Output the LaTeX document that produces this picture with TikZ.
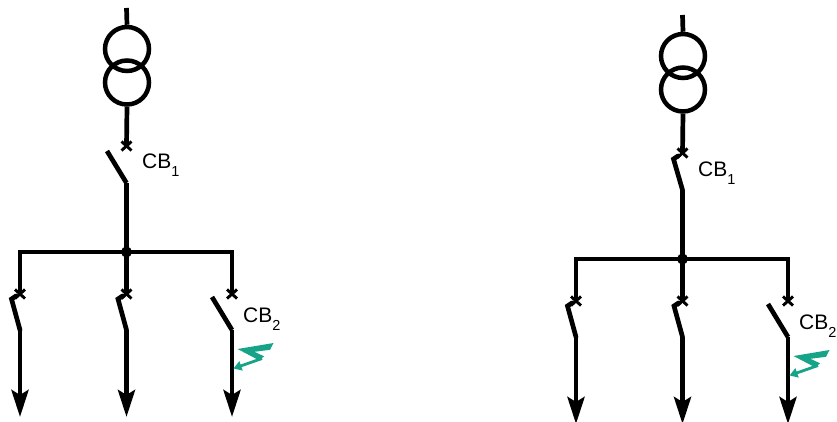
\documentclass[tikz,border=0pt]{standalone}
\usepackage{fontspec}
\setmainfont{Liberation Sans}
\usetikzlibrary{arrows.meta,calc}
\definecolor{boltc}{RGB}{22,163,136}
\tikzset{
  wire/.style={line width=4.7pt, line join=miter},
  xmark/.style={line width=2.9pt},
  feedarrow/.style={-{Stealth[length=27pt,width=17pt,inset=5pt]}},
  cblabel/.style={anchor=base west, inner sep=0pt, font=\fontsize{21}{25}\selectfont},
  trafo/.style={draw, circle, line width=4.5pt, minimum size=44pt, inner sep=0pt},
  boltarrow/.style={draw=boltc, line width=2.8pt, -{Triangle[length=8pt,width=9.5pt]}},
}
\newcommand\cbsub[1]{\raisebox{-8pt}{\fontsize{14.5}{14.5}\selectfont #1}}
\newcommand\xcross[1]{%
  \draw[xmark] ($(#1)+(-5,-4.5)$) -- ($(#1)+(5,4.5)$);
  \draw[xmark] ($(#1)+(-5,4.5)$) -- ($(#1)+(5,-4.5)$);}
% #1 = 1 for open CB1, 0 for closed CB1
\newcommand\switchboard[1]{%
  \coordinate (top) at (126.5,8);
  \node[trafo] (tu) at (127,49) {};
  \node[trafo] (tl) at (127,82.5) {};
  \draw[wire] (top) -- (tu.north);
  \coordinate (cb1c) at (126.5,146);
  \draw[wire] (tl.south) -- (cb1c);
  \xcross{cb1c}
  \coordinate (cb1b) at (126.5,183);
  \ifnum#1=1
    \coordinate (cb1t) at (107,151);
    \draw[wire] (cb1t) -- (cb1b);
  \else
    \coordinate (cb1t) at (117.5,152);
    \coordinate (cb1n) at (122,149);
    \draw[wire, line cap=round] (cb1n) -- (cb1t) -- (cb1b);
  \fi
  \node[cblabel] (cb1lab) at (142,169) {CB\cbsub{1}};
  \coordinate (bus) at (126.5,252);
  \draw[wire] (cb1b) -- (bus);
  \coordinate (bl) at (20,252);
  \coordinate (br) at (232,252);
  \coordinate (c1) at (20,294);
  \coordinate (c2) at (126.5,294);
  \coordinate (c3) at (232,294);
  \draw[wire] (c1) -- (bl) -- (br) -- (c3);
  \draw[wire] (bus) -- (c2);
  \fill (bus) circle[radius=5.5pt];
  \xcross{c1}\xcross{c2}\xcross{c3}
  % closed feeders
  \foreach \c/\xx in {c1/20, c2/126.5} {
    \coordinate (\c n) at (\xx-4,296);
    \coordinate (\c t) at (\xx-8.5,299);
    \coordinate (\c b) at (\xx,330);
    \coordinate (\c e) at (\xx,417);
    \draw[wire, line cap=round] (\c n) -- (\c t) -- (\c b);
    \draw[wire, feedarrow] (\c b) -- (\c e);
  }
  % open feeder CB2
  \coordinate (c3t) at (212,297);
  \coordinate (c3b) at (232,330);
  \coordinate (c3e) at (232,417);
  \draw[wire] (c3t) -- (c3b);
  \draw[wire, feedarrow] (c3b) -- (c3e);
  \node[cblabel] (cb2lab) at (243,322) {CB\cbsub{2}};
  % fault
  \fill[boltc] (237.5,349) -- (273.5,343) -- (270,349.8) -- (254.5,351.8)
     -- (264,356.3) -- (259.5,360.5) -- cycle;
  \coordinate (fs) at (262,358.5);
  \coordinate (ft) at (233.5,368.5);
  \draw[boltarrow] (fs) -- (ft);
}
\begin{document}
\begin{tikzpicture}[x=1pt, y=-1pt]
  \useasboundingbox (0,0) rectangle (837,422);
  \begin{scope}[name prefix=L-]
    \switchboard{1}
  \end{scope}
  \begin{scope}[shift={(556,7)}, name prefix=R-]
    \switchboard{0}
  \end{scope}
\end{tikzpicture}
\end{document}
